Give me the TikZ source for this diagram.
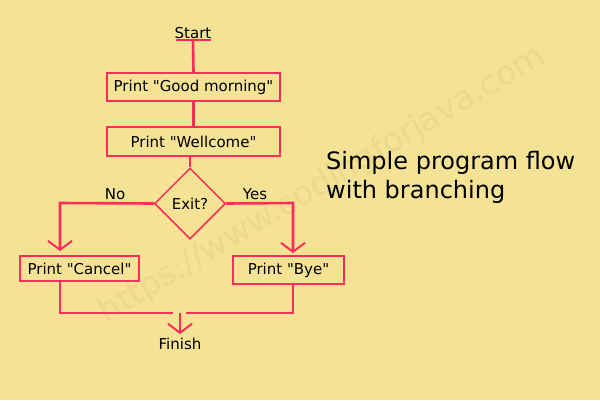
\documentclass[tikz,border=0pt]{standalone}
\usepackage{fontspec}
\setmainfont{DejaVu Sans}[Ligatures=TeXOff]
\usetikzlibrary{shapes.geometric,arrows.meta}
\definecolor{bg}{HTML}{F4E394}
\definecolor{rd}{HTML}{FF2B5B}
\definecolor{wm}{HTML}{EBD98E}
\tikzset{
  box/.style={draw=rd,line width=2pt,minimum height=#1,inner sep=0pt,font=\fontsize{15}{17}\selectfont},
  lbl/.style={font=\fontsize{15}{17}\selectfont,inner sep=0pt},
  conn/.style={draw=rd,line width=2.6pt},
  arr/.style={conn,-{Straight Barb[length=9pt,width=24pt,line width=2pt]}}
}
\begin{document}
\begin{tikzpicture}[x=1pt,y=-1pt]
\fill[bg] (0,0) rectangle (600,400);
\useasboundingbox (0,0) rectangle (600,400);
\node[rotate=30.6,text=wm,font=\fontsize{33}{38}\selectfont] (wmk) at (322,185) {https://www.codingforjava.com};
\node[lbl] (start) at (193,33) {Start};
\coordinate (sl) at (176,40); \coordinate (sr) at (211,40); \coordinate (s0) at (193,40);
\draw[conn] (sl) -- (sr);
\node[box=28pt,minimum width=173pt] (b1) at (193.5,87) {Print "Good morning"};
\node[box=29pt,minimum width=173pt] (b2) at (193.5,141.5) {Print "Wellcome"};
\node[draw=rd,line width=1.5pt,diamond,minimum width=71pt,minimum height=71pt,inner sep=0pt,lbl] (d) at (190,203.5) {Exit?};
\node[box=25pt,minimum width=119pt] (bc) at (79.5,268.5) {Print "Cancel"};
\node[box=28pt,minimum width=111pt] (by) at (288.5,270) {Print "Bye"};
\node[lbl] (fin) at (180,344) {Finish};
\node[lbl] (no) at (115,194) {No};
\node[lbl] (yes) at (255,194) {Yes};
\draw[conn] (s0) -- (b1.north);
\draw[conn] (b1.south) -- (b2.north);
\draw[conn] (b2.south -| d.north) -- (d.north);
\coordinate (nl) at (60,203); \coordinate (yr) at (293,203);
\draw[arr] (d.west) -- (nl) -- (60,251);
\draw[arr] (d.east) -- (yr) -- (293,253);
\coordinate (m1) at (60,313); \coordinate (m2) at (293,313);
\draw[conn] (bc.south -| m1) -- (m1) -- (173,313);
\draw[conn] (by.south -| m2) -- (m2) -- (186,313);
\draw[arr] (180,313) -- (180,334);
\node[anchor=west,align=left,font=\fontsize{24}{29}\selectfont,inner sep=0pt] (title) at (326,177) {Simple program flow\\with branching};
\end{tikzpicture}
\end{document}
